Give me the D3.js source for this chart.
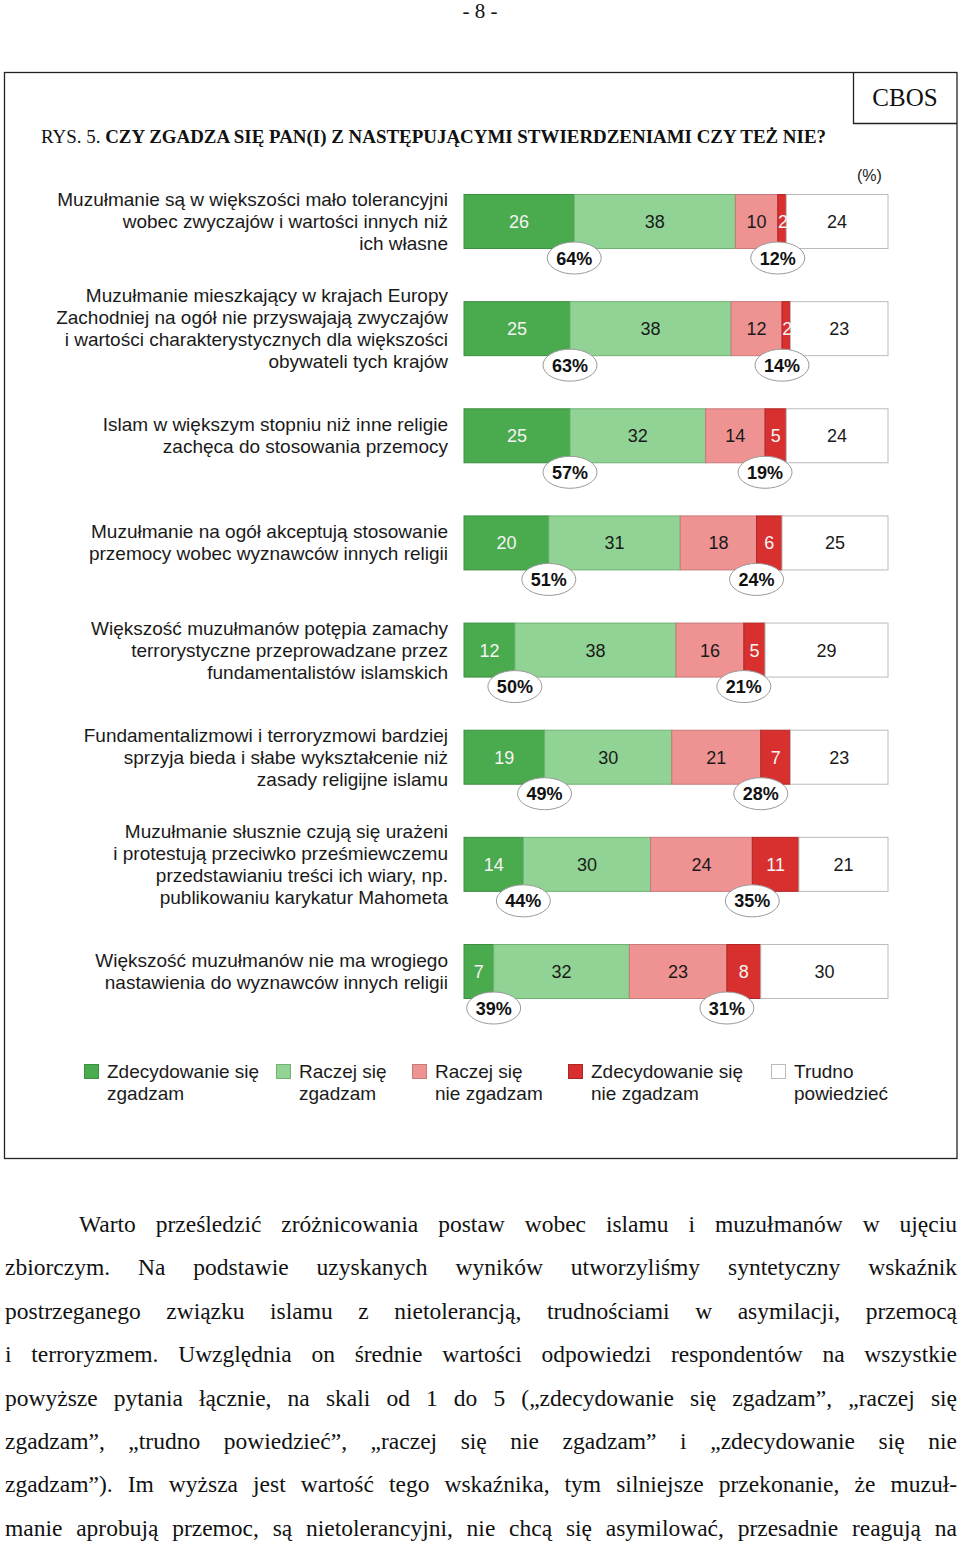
<!DOCTYPE html>
<html><head><meta charset="utf-8">
<script src="https://cdn.jsdelivr.net/npm/d3@7"></script>
<style>
html,body{margin:0;padding:0;background:#fff;}
svg{display:block;}
</style></head>
<body>
<script>
// ---------------- DATA ----------------
const categories = [
  ["Muzułmanie są w większości mało tolerancyjni","wobec zwyczajów i wartości innych niż","ich własne"],
  ["Muzułmanie mieszkający w krajach Europy","Zachodniej na ogół nie przyswajają zwyczajów","i wartości charakterystycznych dla większości","obywateli tych krajów"],
  ["Islam w większym stopniu niż inne religie","zachęca do stosowania przemocy"],
  ["Muzułmanie na ogół akceptują stosowanie","przemocy wobec wyznawców innych religii"],
  ["Większość muzułmanów potępia zamachy","terrorystyczne przeprowadzane przez","fundamentalistów islamskich"],
  ["Fundamentalizmowi i terroryzmowi bardziej","sprzyja bieda i słabe wykształcenie niż","zasady religijne islamu"],
  ["Muzułmanie słusznie czują się urażeni","i protestują przeciwko prześmiewczemu","przedstawianiu treści ich wiary, np.","publikowaniu karykatur Mahometa"],
  ["Większość muzułmanów nie ma wrogiego","nastawienia do wyznawców innych religii"]
];
const strongAgree    = [26,25,25,20,12,19,14,7];
const ratherAgree    = [38,38,32,31,38,30,30,32];
const ratherDisagree = [10,12,14,18,16,21,24,23];
const strongDisagree = [2,2,5,6,5,7,11,8];
const dontKnow       = [24,23,24,25,29,23,21,30];
const agreeTotals    = [64,63,57,51,50,49,44,39];
const disagreeTotals = [12,14,19,24,21,28,35,31];
const seriesNames = [["Zdecydowanie się","zgadzam"],["Raczej się","zgadzam"],["Raczej się","nie zgadzam"],["Zdecydowanie się","nie zgadzam"],["Trudno","powiedzieć"]];
const pageNumber = "- 8 -";
const titlePrefix = "RYS. 5. ";
const titleBold = "CZY ZGADZA SIĘ PAN(I) Z NASTĘPUJĄCYMI STWIERDZENIAMI CZY TEŻ NIE?";
const paragraphLines = [
  "Warto prześledzić zróżnicowania postaw wobec islamu i muzułmanów w ujęciu",
  "zbiorczym. Na podstawie uzyskanych wyników utworzyliśmy syntetyczny wskaźnik",
  "postrzeganego związku islamu z nietolerancją, trudnościami w asymilacji, przemocą",
  "i terroryzmem. Uwzględnia on średnie wartości odpowiedzi respondentów na wszystkie",
  "powyższe pytania łącznie, na skali od 1 do 5 („zdecydowanie się zgadzam”, „raczej się",
  "zgadzam”, „trudno powiedzieć”, „raczej się nie zgadzam” i „zdecydowanie się nie",
  "zgadzam”). Im wyższa jest wartość tego wskaźnika, tym silniejsze przekonanie, że muzuł-",
  "manie aprobują przemoc, są nietolerancyjni, nie chcą się asymilować, przesadnie reagują na"
];

// ---------------- STYLE ----------------
const W = 960, H = 1545;
const fills   = ["#4aaa4e","#90d394","#ef9292","#d8302f","#ffffff"];
const strokes = ["#3d8f41","#6fb373","#c87a7a","#b02626","#bbbbbb"];
const textCol = ["#f4f4f4","#1a1a1a","#1a1a1a","#f4f4f4","#1a1a1a"];
const sans = "'Liberation Sans', Arial, sans-serif";
const serif = "'Liberation Serif', 'Times New Roman', serif";

const svg = d3.select("body").append("svg").attr("width",W).attr("height",H);

// page number
svg.append("text").attr("x",480).attr("y",18).attr("text-anchor","middle")
  .attr("font-family",serif).attr("font-size",21).attr("fill","#111").text(pageNumber);

// frame
const frame = svg.append("g").attr("fill","none").attr("stroke","#222").attr("stroke-width",1.3);
frame.append("rect").attr("x",4.5).attr("y",72.5).attr("width",952.5).attr("height",1086);
frame.append("path").attr("d","M853.5,72.5V123.5H957");
svg.append("text").attr("x",905).attr("y",106).attr("text-anchor","middle")
  .attr("font-family",serif).attr("font-size",25).attr("fill","#111").text("CBOS");

// title
const title = svg.append("text").attr("x",41).attr("y",143)
  .attr("font-family",serif).attr("font-size",19.5).attr("fill","#111")
  .attr("textLength",785).attr("lengthAdjust","spacingAndGlyphs");
title.append("tspan").text(titlePrefix);
title.append("tspan").attr("font-weight","bold").text(titleBold);

svg.append("text").attr("x",857).attr("y",181).attr("font-family",sans)
  .attr("font-size",16).attr("fill","#222").text("(%)");

// ---------------- BARS ----------------
const x = d3.scaleLinear().domain([0,100]).range([464,888]);
const y = d3.scalePoint().domain(d3.range(categories.length)).range([194,944]);
const barH = 54;
const series = [strongAgree, ratherAgree, ratherDisagree, strongDisagree, dontKnow];

const rows = categories.map((c,i)=>{
  let acc = 0;
  const segs = series.map((s,k)=>{ const d={k, v:s[i], x0:acc, x1:acc+s[i]}; acc+=s[i]; return d;});
  return {i, label:c, segs};
});

const rowG = svg.selectAll("g.row").data(rows).join("g").attr("class","row");

rowG.selectAll("rect").data(d=>d.segs.map(s=>({...s,i:d.i}))).join("rect")
  .attr("x",d=>x(d.x0)).attr("y",d=>y(d.i)+0.5)
  .attr("width",d=>x(d.x1)-x(d.x0)).attr("height",barH)
  .attr("fill",d=>fills[d.k]).attr("stroke",d=>strokes[d.k]).attr("stroke-width",1);

rowG.selectAll("text.val").data(d=>d.segs.map(s=>({...s,i:d.i}))).join("text").attr("class","val")
  .attr("x",d=>x((d.x0+d.x1)/2)+(d.v<3?1:0)).attr("y",d=>y(d.i)+barH/2+7)
  .attr("text-anchor","middle").attr("font-family",sans).attr("font-size",18)
  .attr("fill",d=>textCol[d.k]).text(d=>d.v);

// category labels
rowG.each(function(d){
  const g = d3.select(this);
  const n = d.label.length, lh = 22;
  const cy = y(d.i)+barH/2;
  g.selectAll("text.lab").data(d.label).join("text").attr("class","lab")
    .attr("x",448).attr("y",(t,j)=>cy - (n-1)*lh/2 + j*lh + 7)
    .attr("text-anchor","end").attr("font-family",sans).attr("font-size",19).attr("fill","#1a1a1a")
    .text(t=>t);
});

// total ellipses
function ellipses(g, totals, edge){
  const eg = g.append("g").attr("class","totals");
  const e = eg.selectAll("g").data(rows).join("g")
    .attr("transform",d=>`translate(${x(edge(d))},${y(d.i)+barH+10})`);
  e.append("ellipse").attr("rx",27).attr("ry",16).attr("fill","#fff").attr("stroke","#9a9a9a").attr("stroke-width",1);
  e.append("text").attr("y",6.5).attr("text-anchor","middle").attr("font-family",sans)
    .attr("font-size",18).attr("font-weight","bold").attr("fill","#111").text(d=>totals[d.i]+"%");
}
ellipses(svg, agreeTotals, d=>d.segs[0].x1);
ellipses(svg, disagreeTotals, d=>d.segs[2].x1);

// ---------------- LEGEND ----------------
const legendX = [84, 276, 412, 568, 771];
const lg = svg.append("g").selectAll("g").data(seriesNames).join("g")
  .attr("transform",(d,k)=>`translate(${legendX[k]},1064)`);
lg.append("rect").attr("width",14).attr("height",14).attr("x",0.5).attr("y",0.5)
  .attr("fill",(d,k)=>fills[k]).attr("stroke",(d,k)=>strokes[k]);
lg.selectAll("text").data(d=>d).join("text").attr("x",23).attr("y",(t,j)=>14+j*22)
  .attr("font-family",sans).attr("font-size",19).attr("fill","#1a1a1a").text(t=>t);

// ---------------- PARAGRAPH ----------------
const pg = svg.append("g").attr("font-family",serif).attr("font-size",23.5).attr("fill","#111");
paragraphLines.forEach((line,li)=>{
  const left = li===0 ? 79 : 5, right = 957;
  const baseY = 1232 + li*43.4;
  const words = line.split(" ");
  const ts = words.map(w=>pg.append("text").attr("y",baseY).text(w));
  const widths = ts.map(t=>t.node().getComputedTextLength());
  const total = d3.sum(widths);
  const gap = (right-left-total)/(words.length-1);
  let cx = left;
  ts.forEach((t,k)=>{ t.attr("x",cx); cx += widths[k]+gap; });
});
</script>
</body></html>
